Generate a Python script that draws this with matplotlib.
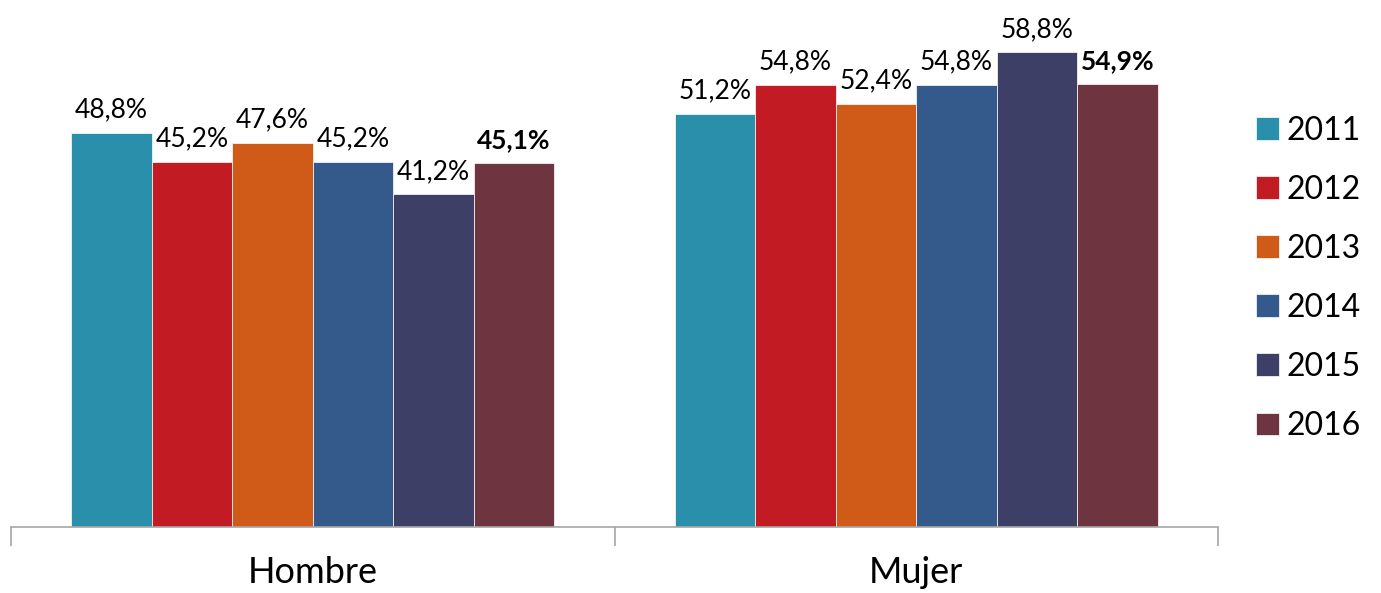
import numpy as np
import matplotlib.pyplot as plt

categories = ['Hombre', 'Mujer']
years = ['2011', '2012', '2013', '2014', '2015', '2016']
values = {
    '2011': [48.8, 51.2],
    '2012': [45.2, 54.8],
    '2013': [47.6, 52.4],
    '2014': [45.2, 54.8],
    '2015': [41.2, 58.8],
    '2016': [45.1, 54.9],
}
colors = ['#2A8FAB', '#C21B24', '#D05A17', '#335A8B', '#3E3F66', '#6E3540']

plt.rcParams['font.family'] = ['Lato', 'DejaVu Sans']

fig = plt.figure(figsize=(13.81, 5.93), dpi=100)
ax = fig.add_axes([11 / 1381, 1 - 527 / 593, (1218 - 11) / 1381, 527 / 593])

x = np.arange(len(categories))
width = 0.8 / len(years)
for i, (yr, c) in enumerate(zip(years, colors)):
    pos = x - 0.4 + width * (i + 0.5)
    bars = ax.bar(pos, values[yr], width, color=c, label=yr,
                  edgecolor='white', linewidth=0.5)
    for b, v in zip(bars, values[yr]):
        txt = f'{v:.1f}%'.replace('.', ',')
        ax.text(b.get_x() + b.get_width() / 2, v + 1.3, txt,
                ha='center', va='bottom', fontsize=19,
                fontweight='bold' if yr == '2016' else 'normal')

ax.set_xlim(-0.5, 1.5)
ax.set_ylim(0, 65.3)
ax.set_yticks([])
for s in ['top', 'right', 'left']:
    ax.spines[s].set_visible(False)
ax.spines['bottom'].set_color('#A6A6A6')
ax.spines['bottom'].set_linewidth(1.2)

ax.set_xticks(x)
ax.set_xticklabels(categories, fontsize=26)
ax.tick_params(axis='x', which='major', length=0, pad=21)
ax.set_xticks([-0.5, 0.5, 1.5], minor=True)
ax.tick_params(axis='x', which='minor', length=14, color='#A6A6A6', width=1.2)

leg = ax.legend(loc='center left', bbox_to_anchor=(1.008, 0.472), frameon=False,
                fontsize=23, handlelength=0.7, handleheight=0.7,
                handletextpad=0.25, labelspacing=0.91)

fig.savefig('out.png', dpi=100)
